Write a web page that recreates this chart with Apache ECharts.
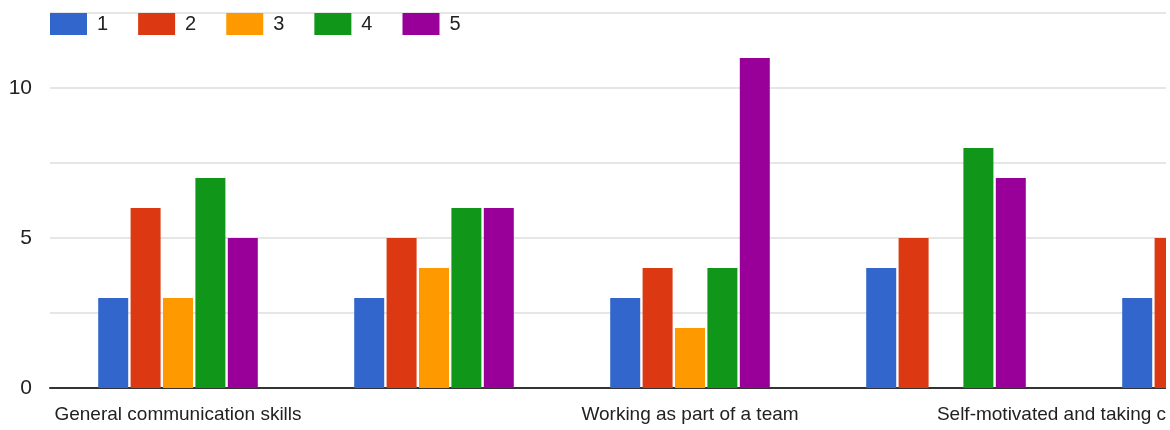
<!DOCTYPE html>
<html>
<head>
<meta charset="utf-8">
<script src="https://cdn.jsdelivr.net/npm/echarts@6/dist/echarts.min.js"></script>
<style>
  html, body { margin: 0; padding: 0; background: #ffffff; overflow: hidden; }
  #chart { width: 1166px; height: 430px; }
</style>
</head>
<body>
<div id="chart"></div>
<script>
// Data
const categories = [
  "General communication skills",
  "Skill 2",
  "Working as part of a team",
  "Skill 4",
  "Self-motivated and taking control of own personal development"
];
const seriesNames = ["1", "2", "3", "4", "5"];
const values1 = [3, 3, 3, 4, 3];
const values2 = [6, 5, 4, 5, 5];
const values3 = [3, 4, 2, 0, null];
const values4 = [7, 6, 4, 8, null];
const values5 = [5, 6, 11, 7, null];
const yTicks = [0, 5, 10];

const colors = ["#3366cc", "#dc3912", "#ff9900", "#109618", "#990099"];
const allValues = [values1, values2, values3, values4, values5];
const font = "'Liberation Sans', Arial, sans-serif";

const chart = echarts.init(document.getElementById('chart'), null, { renderer: 'canvas' });

chart.setOption({
  animation: false,
  color: colors,
  textStyle: { fontFamily: font },
  legend: {
    left: 50,
    top: 13,
    padding: 0,
    icon: 'rect',
    itemWidth: 37,
    itemHeight: 22,
    itemGap: 30,
    textStyle: { fontSize: 20, color: '#222222', fontFamily: font, padding: [0, 0, 0, 5] },
    data: seriesNames
  },
  grid: {
    left: 50,
    top: 13,
    bottom: 42,
    width: 1280,
    containLabel: false,
    outerBoundsMode: 'none'
  },
  xAxis: {
    type: 'category',
    data: categories,
    axisTick: { show: false },
    axisLine: { show: true, lineStyle: { color: '#333333', width: 2 } },
    axisLabel: {
      interval: 1,
      margin: 17,
      fontSize: 19,
      color: '#222222',
      fontFamily: font
    },
    splitLine: { show: false }
  },
  yAxis: {
    type: 'value',
    min: 0,
    max: 12.5,
    interval: 2.5,
    axisLine: { show: false },
    axisTick: { show: false },
    axisLabel: {
      margin: 18,
      fontSize: 21,
      color: '#222222',
      fontFamily: font,
      formatter: function (v) { return yTicks.indexOf(v) >= 0 ? String(v) : ''; }
    },
    splitLine: { show: true, lineStyle: { color: '#e6e6e6', width: 2 } }
  },
  series: seriesNames.map(function (name, i) {
    return {
      name: name,
      type: 'bar',
      data: allValues[i],
      barWidth: 30,
      barGap: '8%',
      itemStyle: { color: colors[i] }
    };
  })
});
</script>
</body>
</html>
